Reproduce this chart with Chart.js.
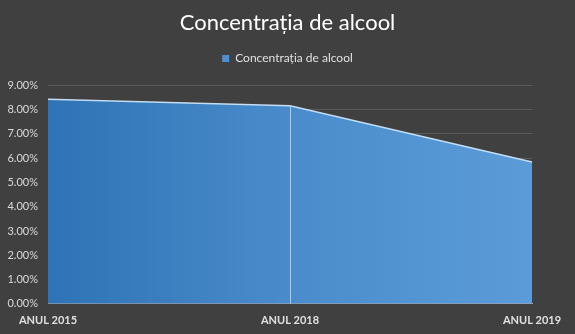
<!DOCTYPE html>
<html>
<head>
<meta charset="utf-8">
<script src="https://cdn.jsdelivr.net/npm/chart.js@4"></script>
<style>
  html, body { margin: 0; padding: 0; background: #404040; }
  #wrap { width: 575px; height: 334px; }
</style>
</head>
<body>
<div id="wrap"><canvas id="myChart"></canvas></div>
<script>
// alcohol concentration by year
const years = ["ANUL 2015", "ANUL 2018", "ANUL 2019"];
const concentration = [8.43, 8.16, 5.84];
const seriesName = "Concentrația de alcool";

function areaGradient(context) {
  const chart = context.chart;
  const area = chart.chartArea;
  if (!area) return "#3f86c6";
  const g = chart.ctx.createLinearGradient(area.left, 0, area.right, 0);
  g.addColorStop(0, "#2e73b5");
  g.addColorStop(0.5, "#4a8ccb");
  g.addColorStop(1, "#5b9bd8");
  return g;
}

// extra room between legend and plot
const legendGap = {
  id: "legendGap",
  beforeInit(chart) {
    const fit = chart.legend.fit;
    chart.legend.fit = function () {
      fit.bind(chart.legend)();
      this.height += 11;
    };
  }
};

// vertical drop line under the middle point
const dropLine = {
  id: "dropLine",
  afterDatasetsDraw(chart) {
    const pt = chart.getDatasetMeta(0).data[1];
    const ctx = chart.ctx;
    ctx.save();
    ctx.strokeStyle = "#a9c9e8";
    ctx.lineWidth = 1;
    ctx.beginPath();
    ctx.moveTo(Math.round(pt.x) + 0.5, pt.y);
    ctx.lineTo(Math.round(pt.x) + 0.5, chart.chartArea.bottom);
    ctx.stroke();
    ctx.restore();
  }
};

new Chart("myChart", {
  type: "line",
  data: {
    labels: years,
    datasets: [{
      label: seriesName,
      data: concentration,
      fill: "origin",
      tension: 0,
      backgroundColor: areaGradient,
      borderColor: "#c5dcf1",
      borderWidth: 1.5,
      pointRadius: 0
    }]
  },
  plugins: [legendGap, dropLine],
  options: {
    responsive: true,
    maintainAspectRatio: false,
    animation: false,
    layout: { padding: { left: 0, right: 0, top: 6, bottom: 5 } },
    plugins: {
      title: {
        display: true,
        text: seriesName,
        color: "#ffffff",
        font: { family: "Lato", size: 22, weight: "normal" },
        padding: { top: 4, bottom: 8 }
      },
      legend: {
        display: true,
        labels: {
          color: "#e0e0e0",
          font: { family: "Lato", size: 12 },
          boxWidth: 7,
          boxHeight: 7,
          padding: 8,
          generateLabels: chart => [{
            text: seriesName,
            fillStyle: "#4f8fcf",
            strokeStyle: "#4f8fcf",
            lineWidth: 0,
            fontColor: "#e0e0e0"
          }]
        }
      },
      tooltip: { enabled: false }
    },
    scales: {
      x: {
        offset: false,
        grid: { display: false },
        border: { color: "#a6a6a6" },
        ticks: {
          color: "#e0e0e0",
          font: { family: "Lato", size: 11, weight: "bold" },
          padding: 2,
          maxRotation: 0
        }
      },
      y: {
        min: 0,
        max: 9,
        afterFit: s => { s.width = 48; },
        ticks: {
          stepSize: 1,
          color: "#d9d9d9",
          font: { family: "Lato", size: 11 },
          padding: 10,
          callback: v => v.toFixed(2) + "%"
        },
        grid: { color: "#5a5a5a", drawTicks: false },
        border: { display: false }
      },
      // empty right margin so title and legend stay centred on the canvas
      yRight: {
        position: "right",
        afterFit: s => { s.width = 43; },
        ticks: { display: false },
        grid: { display: false },
        border: { display: false }
      }
    }
  }
});
</script>
</body>
</html>
